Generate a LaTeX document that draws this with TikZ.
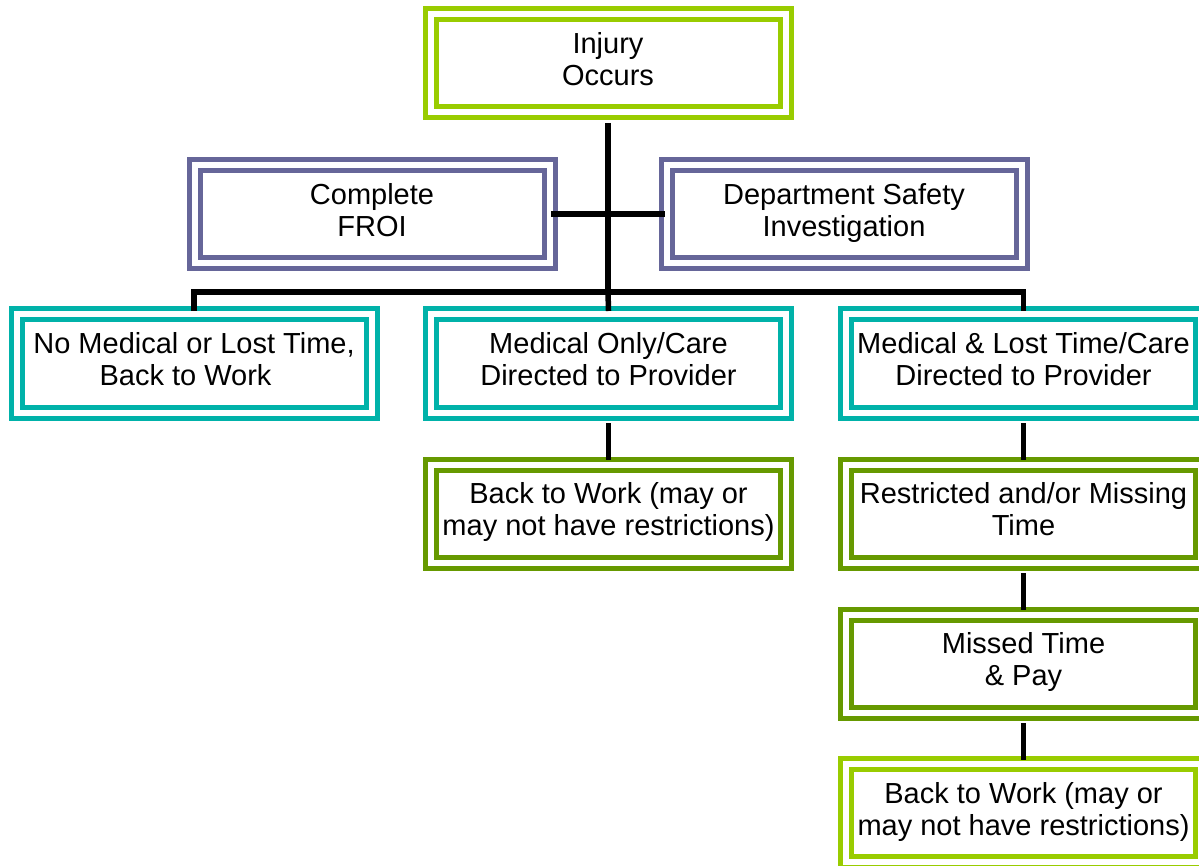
\documentclass[tikz,border=0pt]{standalone}
\usepackage{fontspec}
\setmainfont{Liberation Sans}
\definecolor{limeg}{HTML}{99CC00}
\definecolor{purp}{HTML}{666699}
\definecolor{tealc}{HTML}{00B2A9}
\definecolor{darkg}{HTML}{669900}
\newcommand\boxtxt[1]{\raisebox{4pt}{\begin{tabular}{@{}c@{}}#1\end{tabular}}}
\begin{document}
\begin{tikzpicture}[x=1pt,y=1pt,
  dbox/.style={draw=#1, line width=5pt, double=white, double distance=6pt,
    rectangle, minimum width=355pt, minimum height=98pt, inner sep=0pt,
    font=\fontsize{29}{32}\selectfont},
  conn/.style={draw=black, line width=5.5pt, line join=miter}]
\useasboundingbox (0,0) rectangle (1199,-866);
\clip (0,0) rectangle (1199,-866);
\fill[white] (0,0) rectangle (1199,-866);
% boxes
\node[dbox=limeg] (inj) at (608,-63.5) {\boxtxt{Injury\\Occurs}};
\node[dbox=purp] (froi) at (372,-214) {\boxtxt{Complete\\FROI}};
\node[dbox=purp] (dept) at (844,-214) {\boxtxt{Department Safety\\Investigation}};
\node[dbox=tealc] (nomed) at (194,-363.5) {\boxtxt{No Medical or Lost Time,\\Back to Work\hspace*{17pt}}};
\node[dbox=tealc] (medonly) at (608.5,-363.5) {\boxtxt{Medical Only/Care\\Directed to Provider}};
\node[dbox=tealc] (medlost) at (1023.5,-363.5) {\boxtxt{Medical \& Lost Time/Care\\Directed to Provider}};
\node[dbox=darkg] (bwk1) at (608.5,-513.5) {\boxtxt{Back to Work (may or\\may not have restrictions)}};
\node[dbox=darkg] (restr) at (1023.5,-513.5) {\boxtxt{Restricted and/or Missing\\Time}};
\node[dbox=darkg] (missed) at (1023.5,-663.5) {\boxtxt{Missed Time\\\& Pay}};
\node[dbox=limeg] (bwk2) at (1023.5,-813) {\boxtxt{Back to Work (may or\\may not have restrictions)}};
% connectors
\coordinate (bar) at (608,-292);
\draw[conn] ([yshift=-8pt]inj.south) -- (bar);
\draw[conn] ([xshift=-1pt]froi.east) -- ([xshift=1pt]dept.west);
\draw[conn] ([yshift=1pt]nomed.north) |- (bar) -| ([yshift=1pt]medlost.north);
\draw[conn] (bar) -- ([yshift=1pt]medonly.north);
\draw[conn] ([yshift=-8pt]medonly.south) -- ([yshift=2pt]bwk1.north);
\draw[conn] ([yshift=-8pt]medlost.south) -- ([yshift=2pt]restr.north);
\draw[conn] ([yshift=-8pt]restr.south) -- ([yshift=2pt]missed.north);
\draw[conn] ([yshift=-8pt]missed.south) -- ([yshift=2pt]bwk2.north);
\end{tikzpicture}
\end{document}
